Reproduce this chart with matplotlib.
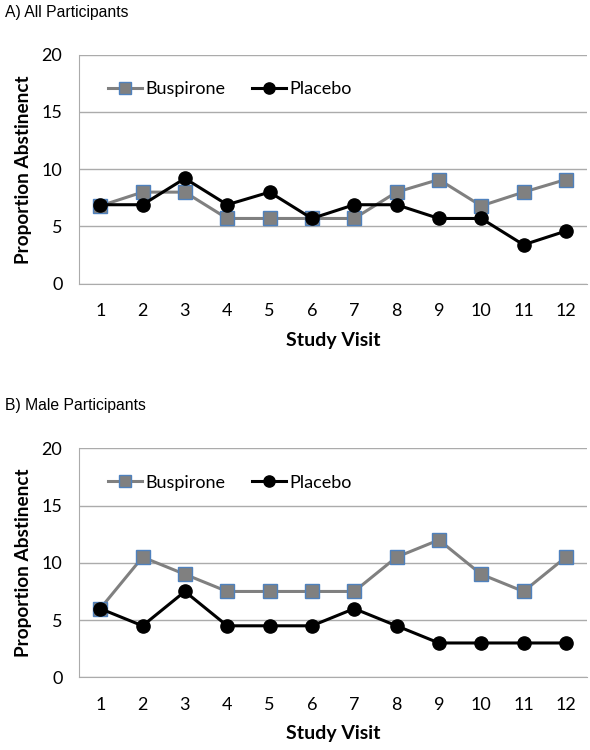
import numpy as np
import matplotlib
matplotlib.use("Agg")
import matplotlib.pyplot as plt

visits = list(range(1, 13))
yticks = [0, 5, 10, 15, 20]

# panel A, all participants
bus_all = [6.8, 8.0, 8.0, 5.7, 5.7, 5.7, 5.7, 8.0, 9.1, 6.8, 8.0, 9.1]
plc_all = [6.9, 6.9, 9.2, 6.9, 8.0, 5.7, 6.9, 6.9, 5.7, 5.7, 3.4, 4.6]

# panel B, male participants
bus_male = [6.0, 10.5, 9.0, 7.5, 7.5, 7.5, 7.5, 10.5, 12.0, 9.0, 7.5, 10.5]
plc_male = [6.0, 4.5, 7.5, 4.5, 4.5, 4.5, 6.0, 4.5, 3.0, 3.0, 3.0, 3.0]

titles = ["A) All Participants", "B) Male Participants"]

plt.rcParams['font.family'] = ['Lato', 'DejaVu Sans']
grid_c = '#ababab'

fig = plt.figure(figsize=(5.9, 7.5), dpi=100)
boxes = [[0.134, 0.6217, 0.861, 0.3053], [0.134, 0.0969, 0.861, 0.3053]]
title_y = [0.983, 0.459]

for box, ty, title, bus, plc in zip(boxes, title_y, titles,
                                    [bus_all, bus_male], [plc_all, plc_male]):
    ax = fig.add_axes(box)
    ax.plot(visits, bus, color='#808080', lw=2.2, marker='s', ms=10,
            mfc='#808080', mec='#4f81bd', mew=1, label='Buspirone', zorder=3)
    ax.plot(visits, plc, color='black', lw=2.2, marker='o', ms=9.5,
            mfc='black', mec='black', label='Placebo', zorder=4)
    ax.set_xlim(0.5, 12.5)
    ax.set_ylim(0, 20)
    ax.set_xticks(visits)
    ax.set_yticks(yticks)
    ax.grid(axis='y', color=grid_c, lw=1)
    ax.set_axisbelow(True)
    for s in ['top', 'right']:
        ax.spines[s].set_visible(False)
    for s in ['left', 'bottom']:
        ax.spines[s].set_color(grid_c)
    ax.tick_params(length=0, labelsize=13, colors='black', pad=12)
    ax.tick_params(axis='x', pad=14)
    ax.set_xlabel('Study Visit', fontsize=14, fontweight='bold', labelpad=9)
    ax.set_ylabel('Proportion Abstinenct', fontsize=13.7, fontweight='bold', labelpad=7)
    ax.legend(loc='center left', bbox_to_anchor=(0.057, 0.85), ncol=2, frameon=False,
              fontsize=13, handlelength=1.9, handletextpad=0.15, columnspacing=1.5,
              borderpad=0, borderaxespad=0, markerscale=0.85)
    fig.text(0.008, ty, title, fontsize=11.3, family='Liberation Sans', va='center')

fig.savefig('out.png', dpi=100)
